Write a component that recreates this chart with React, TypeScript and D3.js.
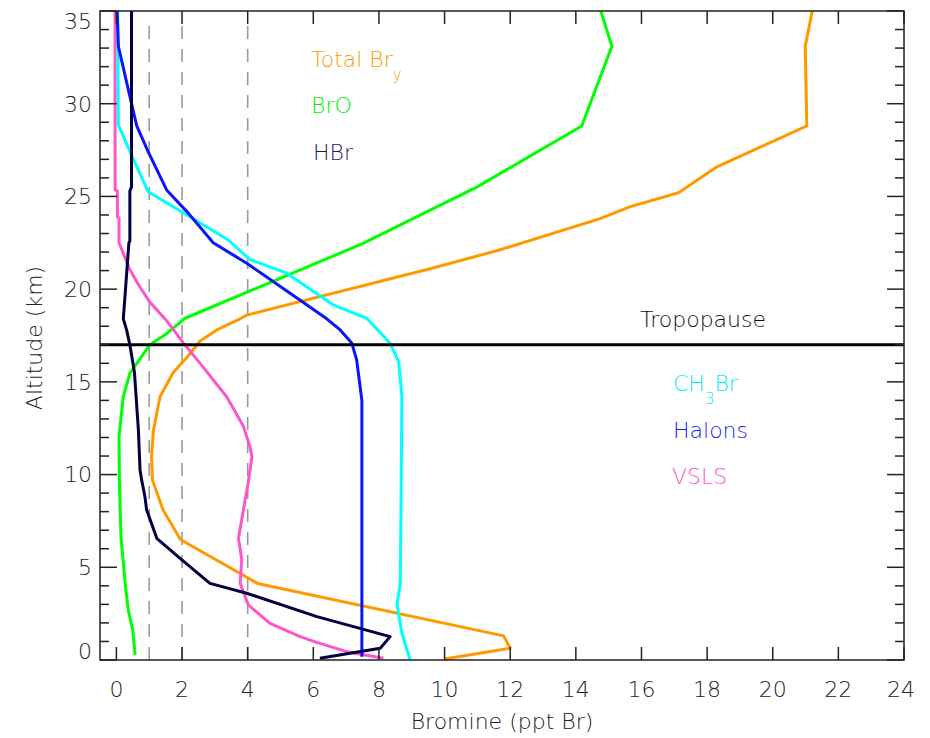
import * as d3 from "d3";

// altitude (km) / bromine (ppt Br)
const bryAlt = [0.05, 0.63, 1.3, 4.13, 6.5, 8.1, 9.7, 11.0, 12.4, 14.2, 15.5, 16.3, 17.2, 17.8, 18.4, 18.6, 21.1, 22.1, 23.8, 24.45, 25.2, 26.6, 28.8, 33.1, 34.5, 35];
const bryVal = [10.0, 12.0, 11.8, 4.3, 1.95, 1.42, 1.1, 1.07, 1.13, 1.33, 1.73, 2.14, 2.55, 3.06, 3.77, 3.97, 9.56, 11.65, 14.74, 15.66, 17.13, 18.3, 21.04, 20.99, 21.15, 21.2];

const broAlt = [0.27, 1.6, 2.7, 4.1, 6.6, 9.7, 12.05, 14.2, 15.46, 16.0, 17.0, 17.6, 18.43, 22.45, 25.5, 28.8, 33.1, 35];
const broVal = [0.57, 0.5, 0.36, 0.27, 0.14, 0.09, 0.08, 0.21, 0.41, 0.62, 1.02, 1.53, 2.09, 7.5, 10.98, 14.18, 15.1, 14.76];

const hbrAlt = [0.1, 0.63, 1.26, 2.34, 3.6, 4.13, 5.48, 6.56, 8.1, 8.8, 9.7, 10.25, 12.4, 15.5, 17.0, 17.8, 18.4, 20.05, 22.5, 22.6, 25.3, 25.5, 35];
const hbrVal = [6.2, 8.04, 8.34, 6.11, 3.97, 2.85, 1.94, 1.23, 0.92, 0.87, 0.77, 0.72, 0.67, 0.55, 0.41, 0.31, 0.21, 0.28, 0.38, 0.41, 0.41, 0.46, 0.46];

const halAlt = [0.18, 14.0, 16.2, 17.1, 17.8, 18.4, 19.4, 21.4, 22.5, 24.1, 25.35, 27.4, 28.8, 30.4, 33.1, 35];
const halVal = [7.48, 7.48, 7.32, 7.17, 6.82, 6.41, 5.6, 3.97, 2.95, 2.19, 1.53, 0.97, 0.62, 0.41, 0.06, 0.02];

const ch3Alt = [0.0, 1.44, 3.0, 4.13, 7.7, 14.2, 16.1, 17.08, 18.43, 19.15, 20.86, 21.6, 22.65, 23.9, 25.25, 27.0, 28.85, 35];
const ch3Val = [8.95, 8.7, 8.55, 8.65, 8.67, 8.7, 8.6, 8.34, 7.63, 6.61, 5.19, 4.07, 3.41, 2.24, 0.97, 0.52, 0.06, 0.04];

const vslsAlt = [0.09, 0.45, 0.95, 1.26, 1.98, 2.97, 4.14, 5.4, 6.56, 8.6, 9.6, 10.96, 11.5, 12.6, 14.2, 16.0, 17.1, 18.3, 19.3, 20.1, 21.04, 22.5, 23.85, 23.9, 25.3, 25.35, 35];
const vslsVal = [8.14, 7.02, 6.1, 5.6, 4.68, 4.02, 3.77, 3.82, 3.72, 3.92, 4.02, 4.13, 4.07, 3.87, 3.36, 2.55, 2.04, 1.53, 1.02, 0.72, 0.41, 0.08, 0.08, 0.03, 0.03, -0.04, -0.04];

const xTicks = [0, 2, 4, 6, 8, 10, 12, 14, 16, 18, 20, 22, 24];
const yMajor = [0, 5, 10, 15, 20, 25, 30, 35];
const refLines = [1, 2, 4];
const tropopause = 17;

const series = [
  { name: "bry", alt: bryAlt, val: bryVal, color: "#ff9900" },
  { name: "bro", alt: broAlt, val: broVal, color: "#00ff00" },
  { name: "vsls", alt: vslsAlt, val: vslsVal, color: "#ff55cc" },
  { name: "ch3br", alt: ch3Alt, val: ch3Val, color: "#00ffff" },
  { name: "halons", alt: halAlt, val: halVal, color: "#0a14ff" },
  { name: "hbr", alt: hbrAlt, val: hbrVal, color: "#000044" },
];

const W = 930;
const H = 738;
const left = 100, right = 904, top = 11, bottom = 660;
const font = "'DejaVu Sans', sans-serif";

export default function App() {
  const x = d3.scaleLinear().domain([-0.5, 24]).range([left, right]);
  const y = d3.scaleLinear().domain([0, 35]).range([bottom, top]);
  const line = d3
    .line<[number, number]>()
    .x((d) => x(d[1]))
    .y((d) => y(d[0]));

  const yMinor = d3.range(0, 36);
  const axisCol = "#222";

  return (
    <svg
      width={W}
      height={H}
      style={{ position: "absolute", left: 0, top: 0, background: "#fff" }}
      fontFamily={font}
      fontWeight={200}
    >
      {/* dashed reference lines */}
      {refLines.map((v) => (
        <line
          key={v}
          x1={x(v)}
          x2={x(v)}
          y1={bottom}
          y2={top + 8}
          stroke="#999"
          strokeWidth={1.6}
          strokeDasharray="13,10"
        />
      ))}

      {/* curves */}
      {series.map((s) => (
        <path
          key={s.name}
          d={line(s.alt.map((a, i) => [a, s.val[i]]) as [number, number][]) || ""}
          fill="none"
          stroke={s.color}
          strokeWidth={3}
          strokeLinejoin="round"
        />
      ))}

      {/* tropopause */}
      <line x1={left} x2={right} y1={y(tropopause)} y2={y(tropopause)} stroke="#000" strokeWidth={3} />

      {/* frame */}
      <rect x={left} y={top} width={right - left} height={bottom - top} fill="none" stroke={axisCol} strokeWidth={1.5} />

      {/* x ticks */}
      {xTicks.map((t) => (
        <g key={t}>
          <line x1={x(t)} x2={x(t)} y1={bottom} y2={bottom - 13} stroke={axisCol} strokeWidth={1.5} />
          <line x1={x(t)} x2={x(t)} y1={top} y2={top + 13} stroke={axisCol} strokeWidth={1.5} />
          <text
            x={t === 24 ? x(t) - 3 : x(t)}
            y={697}
            textAnchor="middle"
            fontSize={22}
            fill="#222"
          >
            {t}
          </text>
        </g>
      ))}

      {/* y ticks */}
      {yMinor.map((t) => {
        const len = t % 5 === 0 ? 17 : 9;
        return (
          <g key={t}>
            <line x1={left} x2={left + len} y1={y(t)} y2={y(t)} stroke={axisCol} strokeWidth={1.5} />
            <line x1={right} x2={right - len} y1={y(t)} y2={y(t)} stroke={axisCol} strokeWidth={1.5} />
          </g>
        );
      })}
      {yMajor.map((t) => {
        const cy = t === 0 ? y(t) - 8.5 : t === 35 ? y(t) + 10 : y(t);
        return (
          <text key={t} x={92} y={cy} dy="0.36em" textAnchor="end" fontSize={22} fill="#222">
            {t}
          </text>
        );
      })}

      {/* axis titles */}
      <text x={(left + right) / 2 + 0} y={729} textAnchor="middle" fontSize={22} fill="#222">
        Bromine (ppt Br)
      </text>
      <text
        transform="translate(42,338) rotate(-90)"
        textAnchor="middle"
        fontSize={22}
        fill="#222"
      >
        Altitude (km)
      </text>

      {/* labels */}
      <text x={311} y={67} fontSize={22} fill="#ff9900">
        Total Br<tspan fontSize={15} dy={13}>y</tspan>
      </text>
      <text x={311} y={113} fontSize={22} fill="#00ee00">BrO</text>
      <text x={313} y={160} fontSize={22} fill="#1a1a66">HBr</text>
      <text x={640} y={327} fontSize={22} fill="#111">Tropopause</text>
      <text x={673} y={391} fontSize={22} fill="#00eeee">
        CH<tspan fontSize={15} dy={13}>3</tspan>
        <tspan dy={-13}>Br</tspan>
      </text>
      <text x={673} y={438} fontSize={22} fill="#1a1aff">Halons</text>
      <text x={672} y={484} fontSize={22} fill="#ff55cc">VSLS</text>
    </svg>
  );
}
